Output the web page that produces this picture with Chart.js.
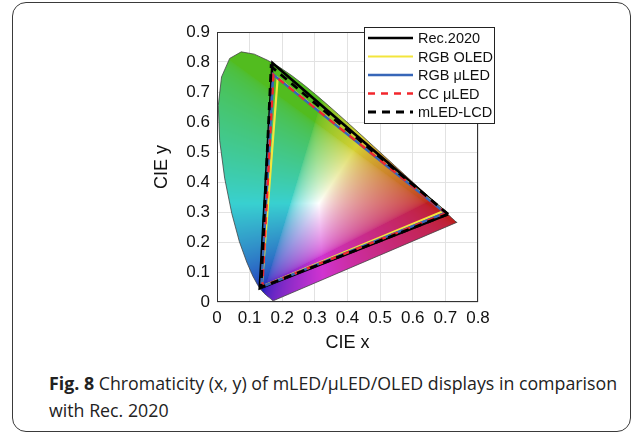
<!DOCTYPE html>
<html>
<head>
<meta charset="utf-8">
<script src="https://cdn.jsdelivr.net/npm/chart.js@4.4.1/dist/chart.umd.min.js"></script>
<style>
  html, body { margin: 0; padding: 0; background: #fff; }
  body { width: 633px; height: 433px; position: relative; overflow: hidden; }
  #frame { position: absolute; left: 12px; top: 2px; width: 619px; height: 430px; border: 1.5px solid #3a3a3a; border-radius: 14px; box-sizing: border-box; }
  #wrap { position: absolute; left: 0; top: 0; width: 633px; height: 370px; }
  #caption { position: absolute; left: 49px; top: 370px; width: 575px; font-family: "Open Sans", sans-serif; font-size: 17.8px; line-height: 27px; color: #222; }
</style>
</head>
<body>
<div id="frame"></div>
<div id="wrap"><canvas id="chart" width="633" height="370"></canvas></div>
<div id="caption"><b>Fig. 8</b> Chromaticity (x, y) of mLED/μLED/OLED displays in comparison with Rec. 2020</div>
<script>
// CIE 1931 spectral locus, 380-700 nm
const locusX = [0.1741, 0.1740, 0.1738, 0.1736, 0.1733, 0.1730, 0.1726, 0.1721, 0.1714, 0.1703, 0.1689, 0.1669, 0.1644, 0.1611, 0.1566, 0.1510, 0.1440, 0.1355, 0.1241, 0.1096, 0.0913, 0.0687, 0.0454, 0.0235, 0.0082, 0.0039, 0.0139, 0.0389, 0.0743, 0.1142, 0.1547, 0.1929, 0.2296, 0.2658, 0.3016, 0.3373, 0.3731, 0.4087, 0.4441, 0.4788, 0.5125, 0.5448, 0.5752, 0.6029, 0.6270, 0.6482, 0.6658, 0.6801, 0.6915, 0.7006, 0.7079, 0.7140, 0.7190, 0.7230, 0.7260, 0.7283, 0.7300, 0.7311, 0.7320, 0.7334, 0.7344, 0.7347];
const locusY = [0.0050, 0.0050, 0.0049, 0.0049, 0.0048, 0.0048, 0.0048, 0.0048, 0.0051, 0.0058, 0.0069, 0.0086, 0.0109, 0.0138, 0.0177, 0.0227, 0.0297, 0.0399, 0.0578, 0.0868, 0.1327, 0.2007, 0.2950, 0.4127, 0.5384, 0.6548, 0.7502, 0.8120, 0.8338, 0.8262, 0.8059, 0.7816, 0.7543, 0.7243, 0.6923, 0.6589, 0.6245, 0.5896, 0.5547, 0.5202, 0.4866, 0.4544, 0.4242, 0.3965, 0.3725, 0.3514, 0.3340, 0.3197, 0.3083, 0.2993, 0.2920, 0.2859, 0.2809, 0.2770, 0.2740, 0.2717, 0.2700, 0.2689, 0.2680, 0.2666, 0.2656, 0.2653];

// primaries R, G, B
const seriesNames = ["Rec.2020", "RGB OLED", "RGB μLED", "CC μLED", "mLED-LCD"];
const rec2020X = [0.708, 0.170, 0.131];
const rec2020Y = [0.292, 0.797, 0.046];
const oledX = [0.695, 0.186, 0.137];
const oledY = [0.303, 0.748, 0.052];
const uledX = [0.700, 0.172, 0.136];
const uledY = [0.297, 0.758, 0.050];
const ccX = [0.703, 0.173, 0.139];
const ccY = [0.296, 0.757, 0.052];
const lcdX = [0.708, 0.166, 0.135];
const lcdY = [0.293, 0.785, 0.049];

const xTicks = [0, 0.1, 0.2, 0.3, 0.4, 0.5, 0.6, 0.7, 0.8];
const yTicks = [0, 0.1, 0.2, 0.3, 0.4, 0.5, 0.6, 0.7, 0.8, 0.9];

function tri(xs, ys) {
  let pts = xs.map((v, i) => ({ x: v, y: ys[i] }));
  pts.push(pts[0]);
  return pts;
}

const fontName = "'Liberation Sans', Arial, sans-serif";

// colour fill of the horseshoe, computed per pixel from xy
const gamutFill = {
  id: "gamutFill",
  beforeDatasetsDraw(chart) {
    const { ctx, chartArea: a, scales: { x, y } } = chart;
    const w = Math.round(a.right - a.left), h = Math.round(a.bottom - a.top);
    if (!chart._fillImg) {
      let off = document.createElement("canvas");
      off.width = w; off.height = h;
      let octx = off.getContext("2d");
      let img = octx.createImageData(w, h);
      for (let j = 0; j < h; j++) {
        let cy = y.getValueForPixel(a.top + j + 0.5);
        for (let i = 0; i < w; i++) {
          let cx = x.getValueForPixel(a.left + i + 0.5);
          if (cy <= 0.001) continue;
          let X = cx / cy, Y = 1, Z = (1 - cx - cy) / cy;
          let r = 3.2406 * X - 1.5372 * Y - 0.4986 * Z;
          let g = -0.9689 * X + 1.8758 * Y + 0.0415 * Z;
          let b = 0.0557 * X - 0.2040 * Y + 1.0570 * Z;
          r = Math.max(r, 0); g = Math.max(g, 0); b = Math.max(b, 0);
          let m = Math.max(r, g, b) || 1;
          let c = [r / m, g / m, b / m].map(v => Math.pow(v, 1 / 2.2));
          // tone it down a bit, like the printed figure
          let L = (c[0] + c[1] + c[2]) / 3;
          c = c.map(v => L + 0.72 * (v - L));
          let sat = Math.max(...c) - Math.min(...c);
          let f = 1 - 0.15 * sat;
          c[0] = c[0] + 0.35 * c[1] * (1 - c[0]) * (1 - c[2]);
          let k = (j * w + i) * 4;
          img.data[k] = 255 * Math.min(1, 0.04 + 0.96 * c[0] * f);
          img.data[k + 1] = 255 * Math.min(1, 0.04 + 0.96 * c[1] * f);
          img.data[k + 2] = 255 * Math.min(1, 0.04 + 0.96 * c[2] * f);
          img.data[k + 3] = 255;
        }
      }
      octx.putImageData(img, 0, 0);
      chart._fillImg = off;
    }
    ctx.save();
    ctx.beginPath();
    locusX.forEach((v, i) => {
      let px = x.getPixelForValue(v), py = y.getPixelForValue(locusY[i]);
      if (i === 0) ctx.moveTo(px, py); else ctx.lineTo(px, py);
    });
    ctx.closePath();
    ctx.clip();
    ctx.drawImage(chart._fillImg, a.left, a.top);
    ctx.restore();
  },
  afterDatasetsDraw(chart) {
    const { ctx, chartArea: a } = chart;
    ctx.save();
    ctx.strokeStyle = "#333";
    ctx.lineWidth = 1;
    ctx.strokeRect(a.left + 0.5, a.top + 0.5, a.right - a.left - 1, a.bottom - a.top - 1);
    ctx.restore();
  }
};

// MATLAB style legend box
const boxLegend = {
  id: "boxLegend",
  afterDraw(chart) {
    const ctx = chart.ctx;
    let bx = 364, by = 27, bw = 130, bh = 96;
    ctx.save();
    ctx.fillStyle = "#fff";
    ctx.fillRect(bx, by, bw, bh);
    ctx.strokeStyle = "#222";
    ctx.lineWidth = 1;
    ctx.strokeRect(bx + 0.5, by + 0.5, bw, bh);
    ctx.font = "14.5px " + fontName;
    ctx.textBaseline = "middle";
    chart.data.datasets.slice(1).forEach((ds, i) => {
      let ly = by + 11 + i * 18.5;
      ctx.beginPath();
      ctx.setLineDash(ds.borderDash || []);
      ctx.strokeStyle = ds.borderColor;
      ctx.lineWidth = ds.borderWidth;
      ctx.moveTo(368, ly);
      ctx.lineTo(413, ly);
      ctx.stroke();
      ctx.setLineDash([]);
      ctx.fillStyle = "#111";
      ctx.fillText(ds.label, 418, ly + 1);
    });
    ctx.restore();
  }
};

new Chart(document.getElementById("chart"), {
  type: "scatter",
  data: {
    datasets: [
      { label: "locus", data: locusX.map((v, i) => ({ x: v, y: locusY[i] })).concat([{ x: locusX[0], y: locusY[0] }]), showLine: true, borderColor: "#444", borderWidth: 0.8, pointRadius: 0, order: 6 },
      { label: seriesNames[0], data: tri(rec2020X, rec2020Y), showLine: true, borderColor: "#000", borderWidth: 2.6, pointRadius: 0, order: 5 },
      { label: seriesNames[1], data: tri(oledX, oledY), showLine: true, borderColor: "#f3e53c", borderWidth: 2.2, pointRadius: 0, order: 4 },
      { label: seriesNames[2], data: tri(uledX, uledY), showLine: true, borderColor: "#3766b8", borderWidth: 2.6, pointRadius: 0, order: 3 },
      { label: seriesNames[3], data: tri(ccX, ccY), showLine: true, borderColor: "#f2262c", borderWidth: 2.4, borderDash: [7, 6], pointRadius: 0, order: 2 },
      { label: seriesNames[4], data: tri(lcdX, lcdY), showLine: true, borderColor: "#000", borderWidth: 2.8, borderDash: [8, 6], pointRadius: 0, order: 1 }
    ]
  },
  options: {
    responsive: false,
    animation: false,
    layout: { padding: { left: 0, right: 155, top: 32, bottom: 0 } },
    plugins: { legend: { display: false }, tooltip: { enabled: false } },
    elements: { line: { tension: 0, borderJoinStyle: "miter" } },
    scales: {
      x: {
        type: "linear", min: 0, max: 0.8,
        afterBuildTicks: s => { s.ticks = xTicks.map(v => ({ value: v })); },
        afterFit: s => { s.height = 68; },
        ticks: { color: "#111", font: { family: fontName, size: 17 }, padding: 6, maxRotation: 0 },
        grid: { color: "#e2e2e2", drawTicks: false },
        border: { display: false },
        title: { display: true, text: "CIE x", color: "#111", font: { family: fontName, size: 18 }, padding: { top: 0, bottom: 16 } }
      },
      y: {
        type: "linear", min: 0, max: 0.9,
        afterBuildTicks: s => { s.ticks = yTicks.map(v => ({ value: v })); },
        afterFit: s => { s.width = 217; },
        ticks: { color: "#111", font: { family: fontName, size: 17 }, padding: 7 },
        grid: { color: "#e2e2e2", drawTicks: false },
        border: { display: false },
        title: { display: true, text: "CIE y", color: "#111", font: { family: fontName, size: 18 }, padding: { top: 151, bottom: 0 } }
      }
    }
  },
  plugins: [gamutFill, boxLegend]
});
</script>
</body>
</html>
